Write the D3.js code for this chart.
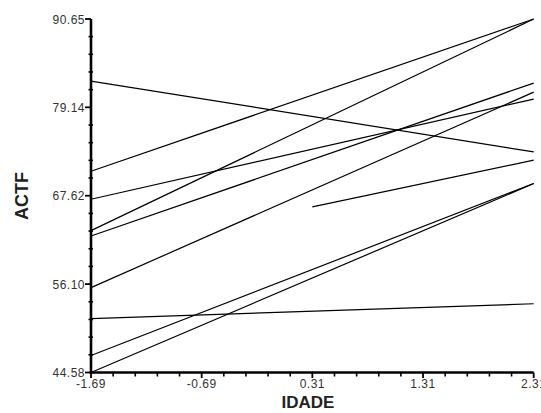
<!DOCTYPE html>
<html>
<head>
<meta charset="utf-8">
<script src="https://cdn.jsdelivr.net/npm/d3@7"></script>
<style>
body{margin:0;background:#fff;}
svg{display:block;}
text{font-family:Arial,"Liberation Sans",sans-serif;}
</style>
</head>
<body>
<svg id="c" width="541" height="413"></svg>
<script>
// Tick labels
const xTicks = [-1.69, -0.69, 0.31, 1.31, 2.31];
const xTickLabels = ["-1.69", "-0.69", "0.31", "1.31", "2.31"];
const yTicks = [44.58, 56.10, 67.62, 79.14, 90.65];
const yTickLabels = ["44.58", "56.10", "67.62", "79.14", "90.65"];

// Line segments (IDADE start/end, ACTF start/end)
const xStart = [-1.69, -1.69, -1.69, -1.69, -1.69, -1.69, -1.69, -1.69, -1.69, 0.31];
const xEnd   = [2.31, 2.31, 2.31, 2.31, 2.31, 2.31, 2.31, 2.31, 2.31, 2.31];
const yStart = [82.56, 70.81, 67.16, 63.07, 62.37, 55.64, 51.59, 46.80, 44.58, 66.16];
const yEnd   = [73.33, 90.65, 80.21, 90.65, 82.30, 81.12, 53.54, 69.21, 69.21, 72.25];

const svg = d3.select("#c");
const x = d3.scaleLinear().domain([-1.69, 2.31]).range([91, 533.7]);
const y = d3.scaleLinear().domain([44.58, 90.65]).range([372.5, 19]);

// data lines
const segs = xStart.map((d, i) => ({x0: d, x1: xEnd[i], y0: yStart[i], y1: yEnd[i]}));
svg.append("g").selectAll("line").data(segs).join("line")
  .attr("x1", d => x(d.x0)).attr("x2", d => x(d.x1))
  .attr("y1", d => y(d.y0)).attr("y2", d => y(d.y1))
  .attr("stroke", "#000").attr("stroke-width", 1.2);

// minor ticks
const yStep = (yTicks[1] - yTicks[0]) / 5;
const yMinor = d3.range(0, 21).map(i => yTicks[0] + i * yStep).filter((v, i) => i % 5 !== 0);
const xStep = (xTicks[1] - xTicks[0]) / 5;
const xMinor = d3.range(0, 21).map(i => xTicks[0] + i * xStep).filter((v, i) => i % 5 !== 0);

const axG = svg.append("g");
axG.selectAll(".ym").data(yMinor).join("line")
  .attr("x1", x(-1.69) - 2.5).attr("x2", x(-1.69) + 2)
  .attr("y1", d => y(d)).attr("y2", d => y(d))
  .attr("stroke", "#000").attr("stroke-width", 1.6);
axG.selectAll(".yM").data(yTicks).join("line")
  .attr("x1", x(-1.69) - 6).attr("x2", x(-1.69))
  .attr("y1", d => y(d)).attr("y2", d => y(d))
  .attr("stroke", "#000").attr("stroke-width", 1.8);
axG.selectAll(".xm").data(xMinor).join("line")
  .attr("x1", d => x(d)).attr("x2", d => x(d))
  .attr("y1", y(44.58)).attr("y2", y(44.58) + 4)
  .attr("stroke", "#000").attr("stroke-width", 1.6);
axG.selectAll(".xM").data(xTicks).join("line")
  .attr("x1", d => x(d)).attr("x2", d => x(d))
  .attr("y1", y(44.58)).attr("y2", y(44.58) + 5.5)
  .attr("stroke", "#000").attr("stroke-width", 1.8);

// axis lines
axG.append("line").attr("x1", x(-1.69)).attr("x2", x(-1.69))
  .attr("y1", y(90.65)).attr("y2", y(44.58) + 1.3)
  .attr("stroke", "#000").attr("stroke-width", 2.6);
axG.append("line").attr("x1", x(-1.69) - 1.3).attr("x2", x(2.31))
  .attr("y1", y(44.58)).attr("y2", y(44.58))
  .attr("stroke", "#000").attr("stroke-width", 2.6);

// tick labels
axG.selectAll(".yl").data(yTicks).join("text")
  .attr("x", x(-1.69) - 6).attr("y", d => y(d) + 4.5)
  .attr("text-anchor", "end").attr("font-size", 12).attr("letter-spacing", 0.5).attr("fill", "#333")
  .text((d, i) => yTickLabels[i]);
axG.selectAll(".xl").data(xTicks).join("text")
  .attr("x", d => x(d)).attr("y", y(44.58) + 15.5)
  .attr("text-anchor", "middle").attr("font-size", 12).attr("letter-spacing", 0.5).attr("fill", "#333")
  .text((d, i) => xTickLabels[i]);

// axis titles
svg.append("text").attr("x", 308).attr("y", 408)
  .attr("text-anchor", "middle").attr("font-size", 17).attr("font-weight", "bold").attr("fill", "#222")
  .text("IDADE");
svg.append("text").attr("transform", "translate(28,196) rotate(-90)")
  .attr("text-anchor", "middle").attr("font-size", 18).attr("font-weight", "bold").attr("fill", "#222")
  .text("ACTF");
</script>
</body>
</html>
